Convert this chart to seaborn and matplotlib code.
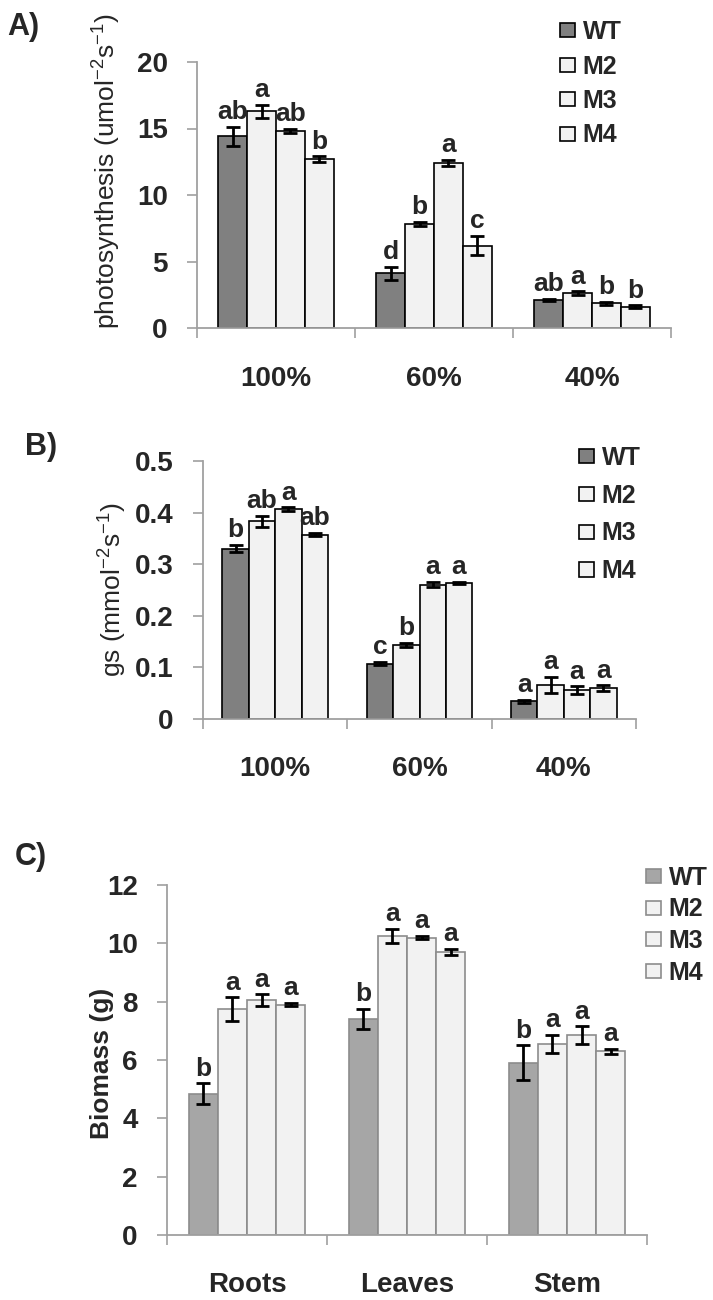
import matplotlib
matplotlib.use('Agg')
import matplotlib.pyplot as plt
import seaborn as sns
import pandas as pd

# ---------------- data ----------------
genotypes = ['WT', 'M2', 'M3', 'M4']
water_levels = ['100%', '60%', '40%']
tissues = ['Roots', 'Leaves', 'Stem']

# Panel A: photosynthesis
photo_WT = [14.4, 4.1, 2.1]
photo_M2 = [16.3, 7.8, 2.6]
photo_M3 = [14.8, 12.4, 1.85]
photo_M4 = [12.7, 6.2, 1.6]
photo_err_WT = [0.7, 0.5, 0.1]
photo_err_M2 = [0.5, 0.15, 0.15]
photo_err_M3 = [0.15, 0.25, 0.1]
photo_err_M4 = [0.2, 0.7, 0.1]
photo_let_WT = ['ab', 'd', 'ab']
photo_let_M2 = ['a', 'b', 'a']
photo_let_M3 = ['ab', 'a', 'b']
photo_let_M4 = ['b', 'c', 'b']

# Panel B: stomatal conductance gs
gs_WT = [0.330, 0.107, 0.034]
gs_M2 = [0.383, 0.143, 0.066]
gs_M3 = [0.407, 0.260, 0.056]
gs_M4 = [0.357, 0.263, 0.060]
gs_err_WT = [0.007, 0.003, 0.003]
gs_err_M2 = [0.010, 0.004, 0.015]
gs_err_M3 = [0.003, 0.005, 0.007]
gs_err_M4 = [0.003, 0.002, 0.005]
gs_let_WT = ['b', 'c', 'a']
gs_let_M2 = ['ab', 'b', 'a']
gs_let_M3 = ['a', 'a', 'a']
gs_let_M4 = ['ab', 'a', 'a']

# Panel C: biomass
bio_WT = [4.85, 7.4, 5.9]
bio_M2 = [7.75, 10.25, 6.55]
bio_M3 = [8.05, 10.2, 6.85]
bio_M4 = [7.9, 9.7, 6.3]
bio_err_WT = [0.35, 0.35, 0.6]
bio_err_M2 = [0.4, 0.25, 0.3]
bio_err_M3 = [0.2, 0.05, 0.3]
bio_err_M4 = [0.05, 0.1, 0.08]
bio_let_WT = ['b', 'b', 'b']
bio_let_M2 = ['a', 'a', 'a']
bio_let_M3 = ['a', 'a', 'a']
bio_let_M4 = ['a', 'a', 'a']

yticks_A = [0, 5, 10, 15, 20]
ytick_labels_A = ['0', '5', '10', '15', '20']
yticks_B = [0, 0.1, 0.2, 0.3, 0.4, 0.5]
ytick_labels_B = ['0', '0.1', '0.2', '0.3', '0.4', '0.5']
yticks_C = [0, 2, 4, 6, 8, 10, 12]
ytick_labels_C = ['0', '2', '4', '6', '8', '10', '12']

# ---------------- style ----------------
sns.set_style('white')
plt.rcParams['font.family'] = ['Liberation Sans', 'DejaVu Sans']
plt.rcParams['font.weight'] = 'bold'
plt.rcParams['mathtext.default'] = 'regular'

W, H = 713, 1300
fig = plt.figure(figsize=(W / 100, H / 100), dpi=100)
AXIS_GRAY = '#a0a0a0'


def px_axes(left, right, top, bottom):
    return fig.add_axes([left / W, 1 - bottom / H, (right - left) / W, (bottom - top) / H])


def draw_panel(ax, cats, vals, errs, lets, palette, edge, yticks, ytl, ylabel,
               ylab_xy, ylab_weight, legend_xy, legend_spacing):
    rows = []
    for g in genotypes:
        for c, v in zip(cats, vals[g]):
            rows.append({'cat': c, 'geno': g, 'val': v})
    df = pd.DataFrame(rows)
    sns.barplot(data=df, x='cat', y='val', hue='geno', order=cats,
                hue_order=genotypes, palette=palette, saturation=1,
                edgecolor=edge, linewidth=1.2, width=0.73, errorbar=None, ax=ax)

    bars = [p for p in ax.patches if p.get_width() > 0]
    bars.sort(key=lambda p: p.get_x())
    for k, bar in enumerate(bars):
        ci, gi = divmod(k, len(genotypes))
        g = genotypes[gi]
        xc = bar.get_x() + bar.get_width() / 2
        h = bar.get_height()
        e = errs[g][ci]
        ax.errorbar(xc, h, yerr=e, fmt='none', ecolor='black',
                    elinewidth=2.0, capsize=5, capthick=2.0, zorder=5)
        ax.annotate(lets[g][ci], (xc, h + e), xytext=(0, 2),
                    textcoords='offset points', ha='center', va='bottom',
                    fontsize=19, fontweight='bold')

    ax.set_xlim(-0.5, len(cats) - 0.5)
    ax.set_ylim(yticks[0], yticks[-1])
    ax.set_yticks(yticks)
    ax.set_yticklabels(ytl)
    ax.set_xlabel('')
    ax.set_ylabel(ylabel, fontsize=19, fontweight=ylab_weight, va='center')
    ax.yaxis.set_label_coords(*ylab_xy)
    ax.tick_params(axis='y', length=7, width=1.2, color=AXIS_GRAY,
                   direction='out', pad=14, labelsize=20, left=True)
    ax.tick_params(axis='x', which='major', length=0, pad=27, labelsize=20)
    ax.set_xticks([i - 0.5 for i in range(len(cats) + 1)], minor=True)
    ax.tick_params(axis='x', which='minor', length=7, width=1.2,
                   color=AXIS_GRAY, direction='out', bottom=True)
    sns.despine(ax=ax)
    for s in ('left', 'bottom'):
        ax.spines[s].set_color(AXIS_GRAY)
        ax.spines[s].set_linewidth(1.3)

    old = ax.get_legend()
    handles = old.legend_handles
    labels = [t.get_text() for t in old.get_texts()]
    leg = ax.legend(handles, labels, loc='upper left',
                    bbox_to_anchor=(legend_xy[0] / W, 1 - legend_xy[1] / H),
                    bbox_transform=fig.transFigure, frameon=False,
                    fontsize=18, handlelength=0.6, handleheight=0.5,
                    handletextpad=0.3, labelspacing=legend_spacing,
                    borderpad=0, borderaxespad=0)
    for hnd in leg.legend_handles:
        hnd.set_edgecolor(edge)
        hnd.set_linewidth(1.2)
    for t in leg.get_texts():
        t.set_fontweight('bold')


# Panel A
axA = px_axes(197, 671, 62, 328)
draw_panel(axA, water_levels,
           {'WT': photo_WT, 'M2': photo_M2, 'M3': photo_M3, 'M4': photo_M4},
           {'WT': photo_err_WT, 'M2': photo_err_M2, 'M3': photo_err_M3, 'M4': photo_err_M4},
           {'WT': photo_let_WT, 'M2': photo_let_M2, 'M3': photo_let_M3, 'M4': photo_let_M4},
           ['#808080', '#f2f2f2', '#f2f2f2', '#f2f2f2'], 'black',
           yticks_A, ytick_labels_A,
           r'photosynthesis (umol$^{-2}$s$^{-1}$)', (-0.19, 0.59), 'normal',
           (560, 20), 0.42)

# Panel B
axB = px_axes(203, 636, 461, 719)
draw_panel(axB, water_levels,
           {'WT': gs_WT, 'M2': gs_M2, 'M3': gs_M3, 'M4': gs_M4},
           {'WT': gs_err_WT, 'M2': gs_err_M2, 'M3': gs_err_M3, 'M4': gs_err_M4},
           {'WT': gs_let_WT, 'M2': gs_let_M2, 'M3': gs_let_M3, 'M4': gs_let_M4},
           ['#808080', '#f2f2f2', '#f2f2f2', '#f2f2f2'], 'black',
           yticks_B, ytick_labels_B,
           r'gs (mmol$^{-2}$s$^{-1}$)', (-0.208, 0.5), 'normal',
           (579, 446), 0.55)

# Panel C
axC = px_axes(167, 647, 885, 1235)
draw_panel(axC, tissues,
           {'WT': bio_WT, 'M2': bio_M2, 'M3': bio_M3, 'M4': bio_M4},
           {'WT': bio_err_WT, 'M2': bio_err_M2, 'M3': bio_err_M3, 'M4': bio_err_M4},
           {'WT': bio_let_WT, 'M2': bio_let_M2, 'M3': bio_let_M3, 'M4': bio_let_M4},
           ['#a6a6a6', '#f2f2f2', '#f2f2f2', '#f2f2f2'], '#8c8c8c',
           yticks_C, ytick_labels_C,
           'Biomass (g)', (-0.135, 0.49), 'bold',
           (646, 866), 0.3)

fig.text(7 / W, 1 - 27 / H, 'A)', fontsize=22, fontweight='bold', va='center')
fig.text(25 / W, 1 - 447 / H, 'B)', fontsize=22, fontweight='bold', va='center')
fig.text(15 / W, 1 - 857 / H, 'C)', fontsize=22, fontweight='bold', va='center')

fig.savefig('out.png', dpi=100)
